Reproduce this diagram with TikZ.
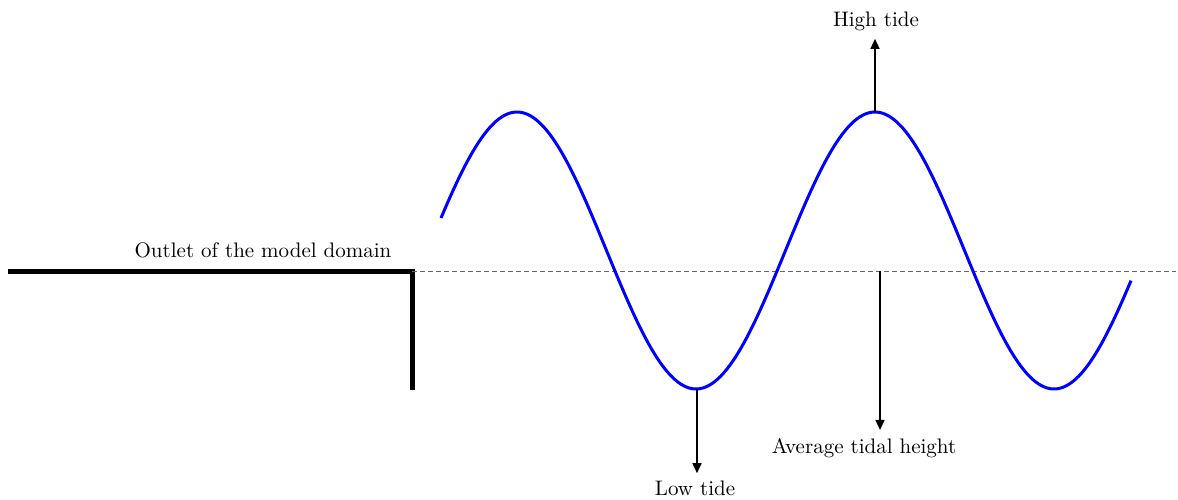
\documentclass[tikz,border=0pt]{standalone}
\usepackage{tikz}
\usetikzlibrary{arrows.meta}

\begin{document}
\begin{tikzpicture}[x=0.5pt,y=-0.5pt,
  tidearrow/.style={-{Triangle[length=5pt,width=4.5pt]},line width=0.8pt},
  tidelbl/.style={inner sep=2pt,font=\fontsize{10.5}{12}\selectfont}]
  \useasboundingbox (0,0) rectangle (1178,499);
  % outlet wall
  \coordinate (wallL) at (8,271);
  \coordinate (outlet) at (412,271);
  \coordinate (wallB) at (412,390);
  \draw[line width=2.5pt,line join=miter] (wallL) -- (outlet) -- (wallB);
  \node[tidelbl] (outletlbl) at (263,250) {Outlet of the model domain};
  % mean water level
  \coordinate (meanR) at (1176,271);
  \draw[gray!80!black,line width=0.5pt,dash pattern=on 2.5pt off 1.5pt] (outlet) -- (meanR);
  % tide wave
  \draw[blue,line width=1.5pt,domain=441:1131,samples=240]
    plot (\x,{250.5-138.5*sin((\x-427.5)/358*360)});
  \coordinate (hiPeak) at (875,112);
  \coordinate (loPeak) at (697,389);
  \coordinate (avg) at (880,271);
  % labels
  \node[tidelbl] (high) at (876,21) {High tide};
  \node[tidelbl] (low) at (695,488) {Low tide};
  \node[tidelbl] (avgtxt) at (864,448) {Average tidal height};
  \draw[tidearrow] (hiPeak) -- ([yshift=-2pt]hiPeak |- high.south);
  \draw[tidearrow] (loPeak) -- ([yshift=1.5pt]loPeak |- low.north);
  \draw[tidearrow] (avg) -- ([yshift=2pt]avg |- avgtxt.north);
\end{tikzpicture}
\end{document}
